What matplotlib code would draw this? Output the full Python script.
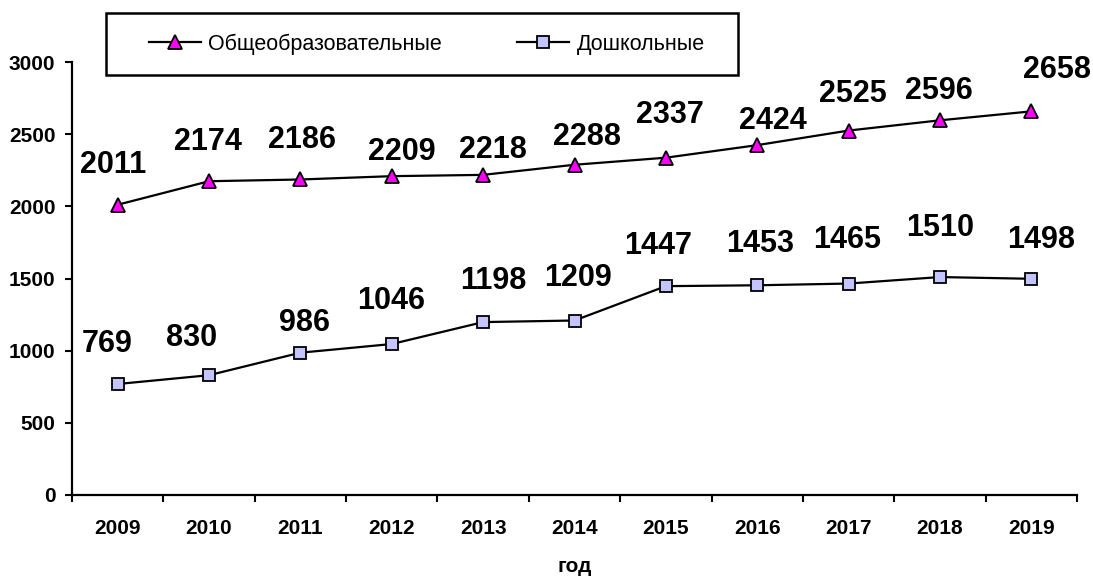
import numpy as np
import matplotlib
matplotlib.use('Agg')
import matplotlib.pyplot as plt
from matplotlib.patches import Rectangle

plt.rcParams['font.family'] = ['Liberation Sans', 'DejaVu Sans']

years = ['2009', '2010', '2011', '2012', '2013', '2014', '2015', '2016', '2017', '2018', '2019']
general = [2011, 2174, 2186, 2209, 2218, 2288, 2337, 2424, 2525, 2596, 2658]
preschool = [769, 830, 986, 1046, 1198, 1209, 1447, 1453, 1465, 1510, 1498]
name_general = 'Общеобразовательные'
name_preschool = 'Дошкольные'
x_title = 'год'

# label offsets in pixels (the labels were nudged by hand in the original)
off_general = [(-5, 40), (-1, 39), (2, 39), (10, 24), (10, 25), (12, 28),
               (4, 43), (16, 24), (4, 37), (-1, 29), (26, 41)]
off_preschool = [(-10, 40), (-17, 37), (4, 30), (-1, 43), (10, 41), (4, 43),
                 (-8, 40), (3, 41), (-1, 44), (0, 49), (10, 39)]

fig = plt.figure(figsize=(10.93, 5.76), dpi=100)
ax = fig.add_axes([72/1093, 1-495/576, 1005/1093, (495-62)/576])

x = np.arange(len(years))
ax.plot(x, general, color='black', lw=1.6, marker='^', ms=10,
        mfc='#FF00FF', mec='black', mew=1.3, label=name_general)
ax.plot(x, preschool, color='black', lw=1.6, marker='s', ms=9,
        mfc='#C4C4FF', mec='black', mew=1.3, label=name_preschool)

for xi, v, o in zip(x, general, off_general):
    ax.annotate(str(v), (xi, v), xytext=o, textcoords='offset pixels',
                ha='center', va='center', fontsize=22, fontweight='bold')
for xi, v, o in zip(x, preschool, off_preschool):
    ax.annotate(str(v), (xi, v), xytext=o, textcoords='offset pixels',
                ha='center', va='center', fontsize=22, fontweight='bold')

ax.set_xlim(-0.5, len(years) - 0.5)
ax.set_ylim(0, 3000)
ax.set_yticks(range(0, 3001, 500))
ax.set_xticks(np.arange(-0.5, len(years), 1))
ax.set_xticklabels([])
ax.set_xticks(x, minor=True)
ax.set_xticklabels(years, minor=True)
ax.tick_params(axis='x', which='minor', length=0, pad=17, labelsize=15)
ax.tick_params(axis='x', which='major', length=5, width=1.5)
ax.tick_params(axis='y', length=5, width=1.5, pad=7, labelsize=15)
for lab in ax.get_xticklabels(minor=True) + ax.get_yticklabels():
    lab.set_fontweight('bold')

for s in ['top', 'right']:
    ax.spines[s].set_visible(False)
for s in ['left', 'bottom']:
    ax.spines[s].set_linewidth(1.6)

fig.text(575/1093, 1-567/576, x_title, ha='center', va='center',
         fontsize=15, fontweight='bold')

# legend frame drawn separately so its size matches the original box
fig.patches.append(Rectangle((106/1093, 1-75/576), 632/1093, 62/576,
                             transform=fig.transFigure, fill=False,
                             edgecolor='black', linewidth=1.8))
fig.legend(loc='center left', ncol=2, bbox_to_anchor=(149/1093, 1-44/576),
           fontsize=15.5, frameon=False, borderpad=0, borderaxespad=0,
           handlelength=2.4, handletextpad=0.35, columnspacing=3.5)

plt.savefig('out.png', dpi=100)
